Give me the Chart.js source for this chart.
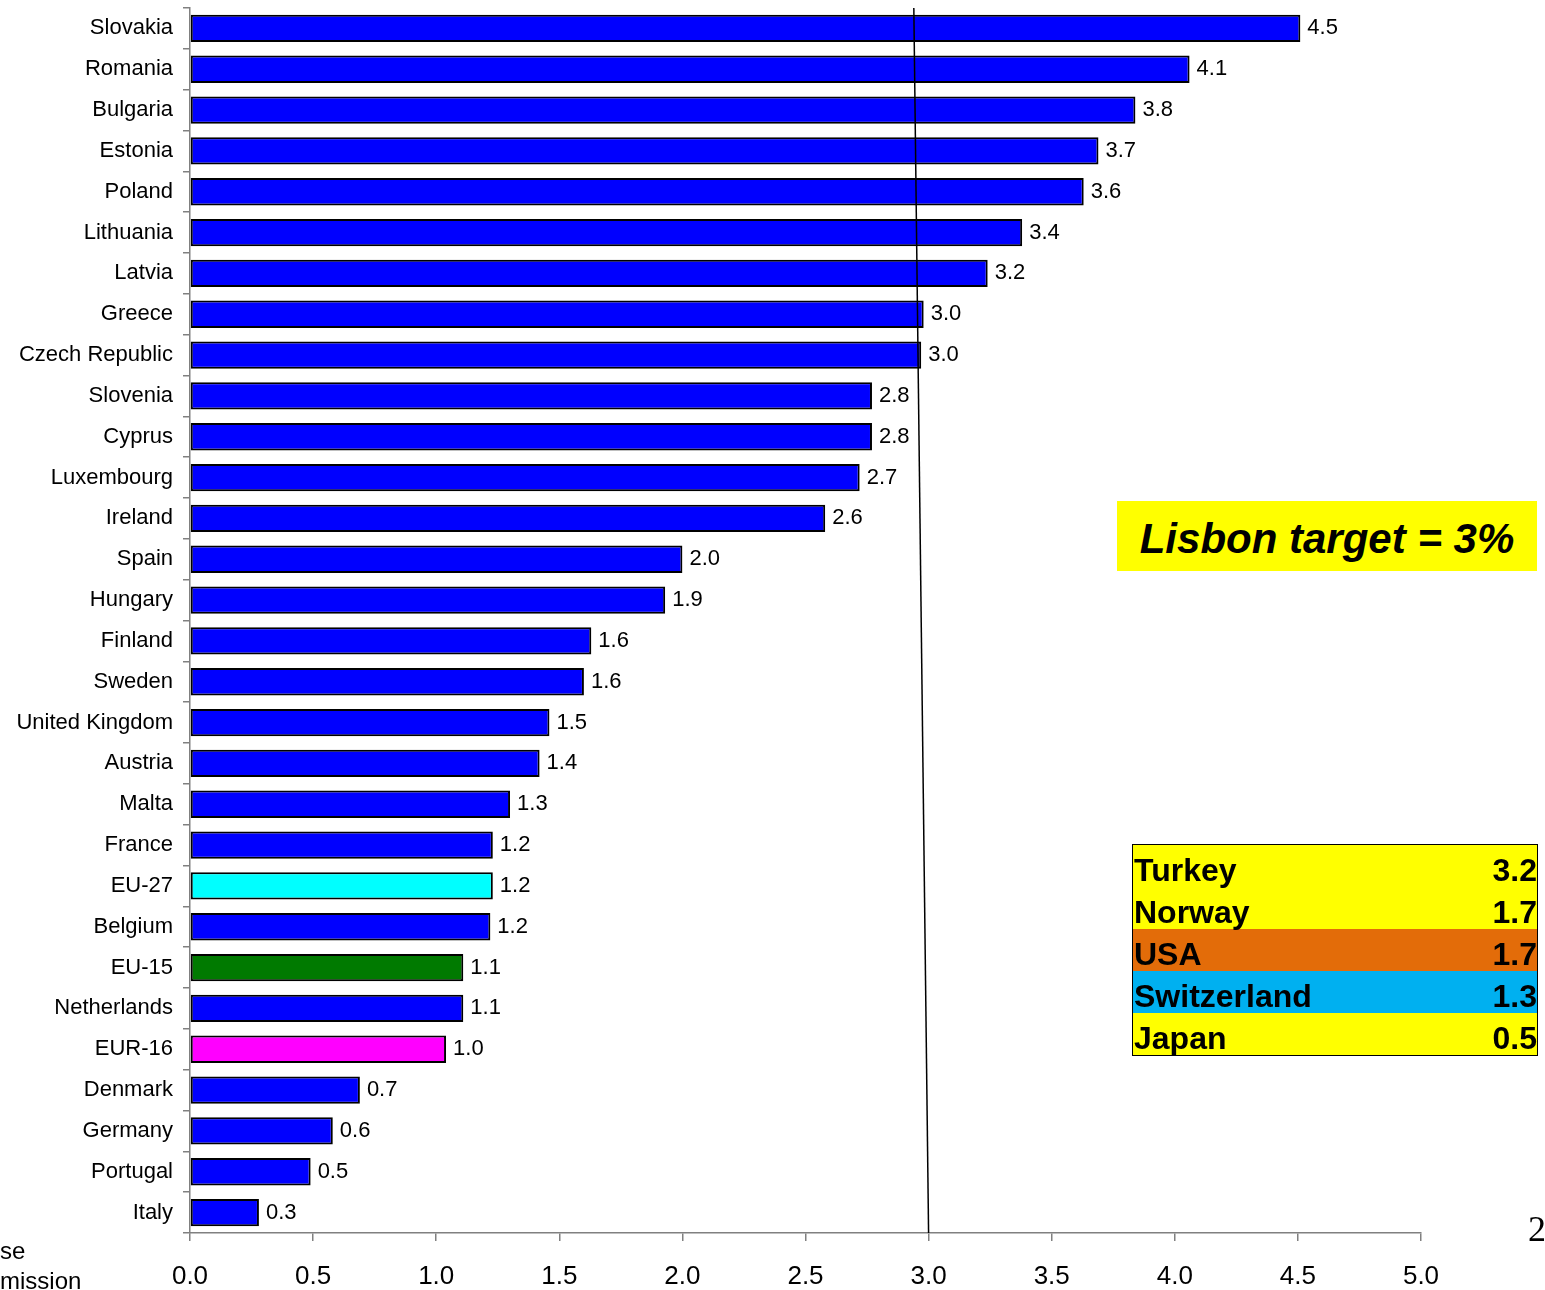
<!DOCTYPE html>
<html>
<head>
<meta charset="utf-8">
<script src="https://cdn.jsdelivr.net/npm/chart.js@4/dist/chart.umd.min.js"></script>
<style>
body{margin:0;background:#fff;font-family:"Liberation Sans",Arial,sans-serif;}
#wrap{position:relative;width:1545px;height:1290px;overflow:hidden;}
.lisbon{position:absolute;left:1117px;top:501px;width:420px;height:70px;background:#ffff00;
font:italic bold 42px "Liberation Sans",Arial,sans-serif;line-height:76px;text-align:center;}
.tbl{position:absolute;left:1132px;top:844px;width:404px;border:1px solid #000;}
.tbl div{height:42px;font:bold 32px "Liberation Sans",Arial,sans-serif;line-height:50px;display:flex;justify-content:space-between;padding:0 0 0 1px;box-sizing:border-box;}
.note{position:absolute;left:0;font:24px "Liberation Sans",Arial,sans-serif;}
.pg{position:absolute;left:1528px;top:1208px;font:36px "Liberation Serif",serif;}
</style>
</head>
<body>
<div id="wrap">
<canvas id="rdChart" width="1545" height="1290"></canvas>
<div class="lisbon">Lisbon target = 3%</div>
<div class="tbl" id="tbl"></div>
<div class="note" style="top:1237px">se</div>
<div class="note" style="top:1267px">mission</div>
<div class="pg">2</div>
</div>
<script>
// categories and values
const countries = ["Slovakia","Romania","Bulgaria","Estonia","Poland","Lithuania","Latvia","Greece","Czech Republic","Slovenia","Cyprus","Luxembourg","Ireland","Spain","Hungary","Finland","Sweden","United Kingdom","Austria","Malta","France","EU-27","Belgium","EU-15","Netherlands","EUR-16","Denmark","Germany","Portugal","Italy"];
const values = [4.51,4.06,3.84,3.69,3.63,3.38,3.24,2.98,2.97,2.77,2.77,2.72,2.58,2.0,1.93,1.63,1.6,1.46,1.42,1.3,1.23,1.23,1.22,1.11,1.11,1.04,0.69,0.58,0.49,0.28];
const xTicks = [0,0.5,1,1.5,2,2.5,3,3.5,4,4.5,5];
const lisbonX = [2.94, 3.0]; // top, bottom of the target line

const otherNames = ["Turkey","Norway","USA","Switzerland","Japan"];
const otherValues = ["3.2","1.7","1.7","1.3","0.5"];
const otherColors = ["#ffff00","#ffff00","#e36c09","#00b0f0","#ffff00"];

const special = {"EU-27":"#00ffff","EU-15":"#007a00","EUR-16":"#ff00ff"};
const colors = countries.map(c => special[c] || "#0000ff");

let t = "";
for(let i=0;i<otherNames.length;i++){
  t += `<div style="background:${otherColors[i]}"><span>${otherNames[i]}</span><span>${otherValues[i]}</span></div>`;
}
document.getElementById("tbl").innerHTML = t;

const valueLabels = {
  id:"valueLabels",
  afterDatasetsDraw(chart){
    const ctx = chart.ctx;
    const meta = chart.getDatasetMeta(0);
    ctx.save();
    ctx.font = '22px "Liberation Sans", Arial, sans-serif';
    ctx.fillStyle = "#000";
    ctx.textBaseline = "middle";
    meta.data.forEach((bar,i)=>{
      ctx.fillText(values[i].toFixed(1), bar.x + 7, bar.y);
    });
    // Lisbon 3% line
    const xs = chart.scales.x;
    ctx.beginPath();
    ctx.strokeStyle = "#000";
    ctx.lineWidth = 1.5;
    ctx.moveTo(xs.getPixelForValue(lisbonX[0]), chart.chartArea.top);
    ctx.lineTo(xs.getPixelForValue(lisbonX[1]), chart.chartArea.bottom);
    ctx.stroke();
    ctx.restore();
  }
};

new Chart(document.getElementById("rdChart"),{
  type:"bar",
  data:{
    labels:countries,
    datasets:[{
      data:values,
      backgroundColor:colors,
      borderColor:"#000",
      borderWidth:2,
      borderSkipped:false,
      barPercentage:0.67,
      categoryPercentage:1
    }]
  },
  options:{
    indexAxis:"y",
    responsive:false,
    animation:false,
    layout:{padding:{top:8,right:124,left:0,bottom:0}},
    plugins:{legend:{display:false},tooltip:{enabled:false}},
    scales:{
      x:{
        min:0,max:5,
        afterFit(s){ s.height = 57; s.paddingLeft = 0; s.paddingRight = 0; },
        afterBuildTicks(s){ s.ticks = xTicks.map(v=>({value:v})); },
        ticks:{
          callback:v=>Number(v).toFixed(1),
          color:"#000",
          font:{family:'"Liberation Sans", Arial, sans-serif',size:26},
          padding:20,
          maxRotation:0
        },
        grid:{drawOnChartArea:false,tickLength:8,color:"#808080",lineWidth:1.5},
        border:{color:"#808080",width:1.5}
      },
      y:{
        afterFit(s){ s.width = 190; s.paddingTop = 0; s.paddingBottom = 0; },
        ticks:{
          color:"#000",
          font:{family:'"Liberation Sans", Arial, sans-serif',size:22},
          padding:10,
          autoSkip:false
        },
        grid:{drawOnChartArea:false,tickLength:7,color:"#808080",lineWidth:1.5,offset:true},
        border:{color:"#808080",width:1.5}
      }
    }
  },
  plugins:[valueLabels]
});
</script>
</body>
</html>
